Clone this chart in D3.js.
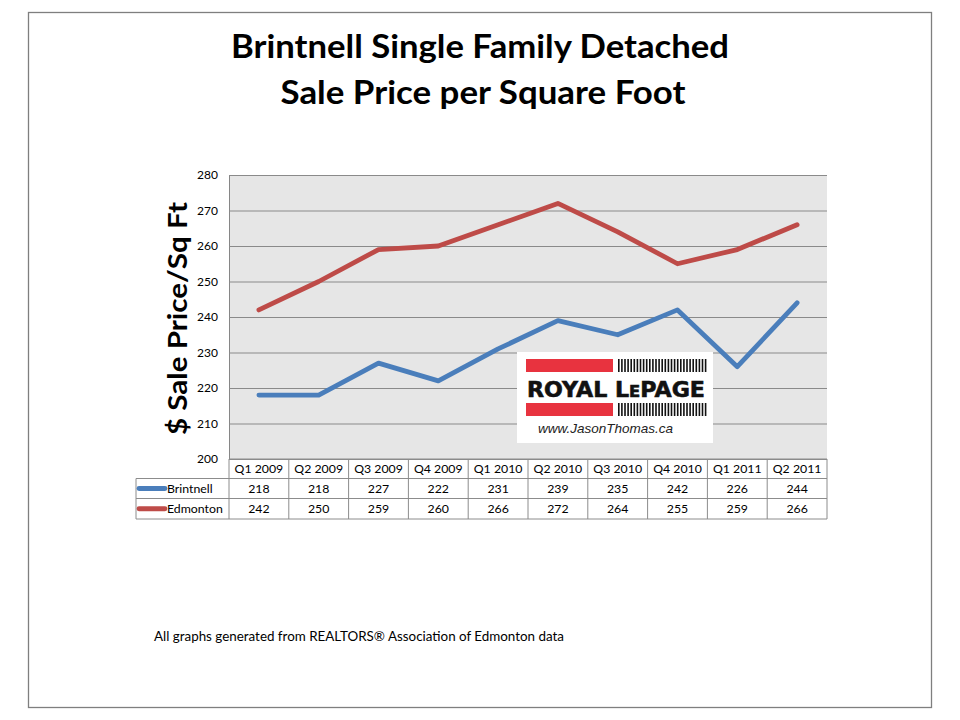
<!DOCTYPE html>
<html><head><meta charset="utf-8">
<script src="https://cdn.jsdelivr.net/npm/d3@7"></script>
<style>
html,body{margin:0;padding:0;background:#fff;}
svg{display:block;}
</style></head>
<body>
<svg id="c" width="960" height="720"></svg>
<script>
const quarters = ["Q1 2009","Q2 2009","Q3 2009","Q4 2009","Q1 2010","Q2 2010","Q3 2010","Q4 2010","Q1 2011","Q2 2011"];
const brintnell = [218,218,227,222,231,239,235,242,226,244];
const edmonton  = [242,250,259,260,266,272,264,255,259,266];
const yTicks = [200,210,220,230,240,250,260,270,280];
const seriesNames = ["Brintnell","Edmonton"];
const seriesColors = ["#4a7ebb","#be4b48"];

const FONT = "Lato, 'Open Sans', sans-serif";
const svg = d3.select("#c");

// outer frame
svg.append("rect").attr("x",28.5).attr("y",12.5).attr("width",903).attr("height",695)
  .attr("fill","#fff").attr("stroke","#7f7f7f").attr("stroke-width",1.3);

// title
const title = svg.append("text").attr("text-anchor","middle").attr("font-family",FONT)
  .attr("font-weight","bold").attr("font-size",32).attr("fill","#000");
title.append("tspan").attr("x",480).attr("y",58).attr("textLength",498).attr("lengthAdjust","spacingAndGlyphs")
  .text("Brintnell Single Family Detached");
title.append("tspan").attr("x",483).attr("y",104).attr("textLength",405).attr("lengthAdjust","spacingAndGlyphs")
  .text("Sale Price per Square Foot");

// plot area
const L=229, R=827, T=175, B=459;
const x = d3.scaleBand().domain(quarters).range([L,R]).padding(0);
const y = d3.scaleLinear().domain([200,280]).range([B,T]);

svg.append("rect").attr("x",L).attr("y",T).attr("width",R-L).attr("height",B-T).attr("fill","#e6e6e6");

const yAxis = d3.axisLeft(y).tickValues(yTicks).tickSizeInner(-(R-L)).tickSizeOuter(0).tickPadding(11);
const ga = svg.append("g").attr("transform",`translate(${L},0)`).call(yAxis);
ga.select(".domain").attr("stroke","#868686");
ga.selectAll(".tick line").attr("stroke","#8a8a8a").attr("stroke-width",1);
ga.selectAll(".tick text").attr("font-family",FONT).attr("font-size",12).attr("fill","#000");

// y axis title
svg.append("text").attr("transform","translate(187,318.5) rotate(-90)")
  .attr("text-anchor","middle").attr("font-family",FONT).attr("font-weight","bold")
  .attr("font-size",27).attr("fill","#000").attr("textLength",233).attr("lengthAdjust","spacingAndGlyphs")
  .text("$ Sale Price/Sq Ft");

// logo
const logo = svg.append("g");
logo.append("rect").attr("x",517).attr("y",352).attr("width",196).attr("height",91).attr("fill","#fff");
[359,403].forEach(yy=>{
  logo.append("rect").attr("x",526).attr("y",yy).attr("width",87).attr("height",13).attr("fill","#e8333f");
  const bars = d3.range(0,88,3.1);
  logo.selectAll(null).data(bars).enter().append("rect")
    .attr("x",d=>618+d).attr("y",yy).attr("width",1.6).attr("height",13).attr("fill","#111");
});
const rt = logo.append("text").attr("x",527).attr("y",397).attr("font-family","'DejaVu Sans', sans-serif")
  .attr("font-weight","bold").attr("font-size",21).attr("fill","#111").attr("stroke","#111").attr("stroke-width",0.6)
  .attr("textLength",178).attr("lengthAdjust","spacingAndGlyphs");
rt.append("tspan").text("ROYAL L");
rt.append("tspan").attr("font-size",15.5).text("E");
rt.append("tspan").text("PAGE");
logo.append("text").attr("x",538).attr("y",433).attr("font-family","'Liberation Sans', Arial, sans-serif")
  .attr("font-style","italic").attr("font-size",13.5).attr("fill","#222").text("www.JasonThomas.ca");

// lines
const cx = q => x(q) + x.bandwidth()/2;
const line = d3.line().x((d,i)=>cx(quarters[i])).y(d=>y(d));
[brintnell, edmonton].forEach((s,k)=>{
  svg.append("path").datum(s).attr("d",line).attr("fill","none")
    .attr("stroke",seriesColors[k]).attr("stroke-width",4.8).attr("stroke-linejoin","round").attr("stroke-linecap","round");
});

// data table
const rowY = [459,478.5,498.5,519];
const LL = 136;
const tg = svg.append("g").attr("stroke","#8c8c8c").attr("stroke-width",1);
tg.append("line").attr("x1",L).attr("x2",R).attr("y1",rowY[0]).attr("y2",rowY[0]);
[1,2,3].forEach(i=>tg.append("line").attr("x1",LL).attr("x2",R).attr("y1",rowY[i]).attr("y2",rowY[i]));
quarters.forEach(q=>tg.append("line").attr("x1",x(q)).attr("x2",x(q)).attr("y1",rowY[0]).attr("y2",rowY[3]));
tg.append("line").attr("x1",R).attr("x2",R).attr("y1",rowY[0]).attr("y2",rowY[3]);
tg.append("line").attr("x1",LL).attr("x2",LL).attr("y1",rowY[1]).attr("y2",rowY[3]);

const tf = {family:FONT,size:12.3};
svg.selectAll(null).data(quarters).enter().append("text")
  .attr("x",d=>cx(d)).attr("y",(rowY[0]+rowY[1])/2+4.5).attr("text-anchor","middle")
  .attr("font-family",tf.family).attr("font-size",tf.size).text(d=>d);
[brintnell, edmonton].forEach((s,k)=>{
  const yc=(rowY[k+1]+rowY[k+2])/2;
  svg.selectAll(null).data(s).enter().append("text")
    .attr("x",(d,i)=>cx(quarters[i])).attr("y",yc+4.5).attr("text-anchor","middle")
    .attr("font-family",tf.family).attr("font-size",tf.size).text(d=>d);
  svg.append("line").attr("x1",139).attr("x2",165).attr("y1",yc).attr("y2",yc)
    .attr("stroke",seriesColors[k]).attr("stroke-width",4.8).attr("stroke-linecap","round");
  svg.append("text").attr("x",167).attr("y",yc+4.5).attr("font-family",tf.family).attr("font-size",tf.size)
    .text(seriesNames[k]);
});

// footer
svg.append("text").attr("x",154).attr("y",641).attr("font-family",FONT).attr("font-size",13.3)
  .attr("fill","#000").attr("textLength",410).attr("lengthAdjust","spacingAndGlyphs")
  .text("All graphs generated from REALTORS® Association of Edmonton data");
</script>
</body></html>
